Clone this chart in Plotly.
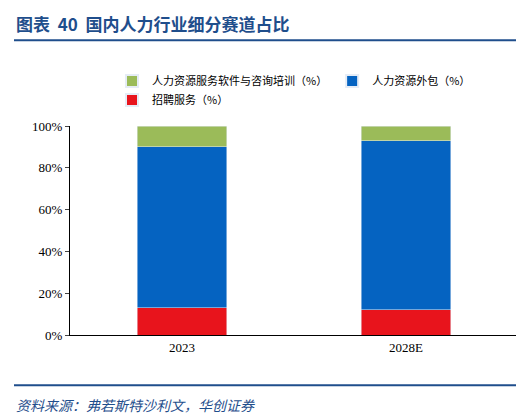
import plotly.graph_objs as go

years = ['2023', '2028E']
recruit = [13, 12]
outsourcing = [77, 81]
software = [10, 7]

fig = go.Figure()
fig.add_trace(go.Bar(x=years, y=recruit, name='招聘服务（%）', marker_color='#E8141C'))
fig.add_trace(go.Bar(x=years, y=outsourcing, name='人力资源外包（%）', marker_color='#0563C1'))
fig.add_trace(go.Bar(x=years, y=software, name='人力资源服务软件与咨询培训（%）', marker_color='#9BBB59'))

font = 'Noto Sans CJK SC'
fig.update_layout(
    barmode='stack', bargap=0.6,
    width=524, height=413, plot_bgcolor='white', paper_bgcolor='white',
    margin=dict(l=62, r=14, t=118, b=86),
    font=dict(family=font, size=12, color='black'),
    legend=dict(orientation='h', x=0.5, xanchor='center', y=1.17, yanchor='middle',
                traceorder='reversed', font=dict(size=11), itemsizing='constant'),
    xaxis=dict(showline=True, linecolor='black', ticks='', tickfont=dict(family='Liberation Serif', size=13)),
    yaxis=dict(range=[0, 100], dtick=20, ticksuffix='%', showgrid=False, showline=True,
               linecolor='black', ticks='outside', ticklen=4, tickfont=dict(family='Liberation Serif', size=13)),
    showlegend=True,
)
fig.add_annotation(text='<b>图表  40  国内人力行业细分赛道占比</b>', xref='paper', yref='paper',
                   x=-0.125, y=1.49, xanchor='left', yanchor='middle', showarrow=False,
                   font=dict(size=17, color='#1F4E8C', family=font))
fig.add_shape(type='line', xref='paper', yref='paper', x0=-0.125, x1=1.02, y0=1.41, y1=1.41,
              line=dict(color='#1F4E8C', width=2))
fig.add_shape(type='line', xref='paper', yref='paper', x0=-0.125, x1=1.02, y0=-0.24, y1=-0.24,
              line=dict(color='#1F4E8C', width=2))
fig.add_annotation(text='<i>资料来源：弗若斯特沙利文，华创证券</i>', xref='paper', yref='paper',
                   x=-0.125, y=-0.335, xanchor='left', yanchor='middle', showarrow=False,
                   font=dict(size=14, color='#1F4E8C', family=font))
fig.write_html('out.html')
